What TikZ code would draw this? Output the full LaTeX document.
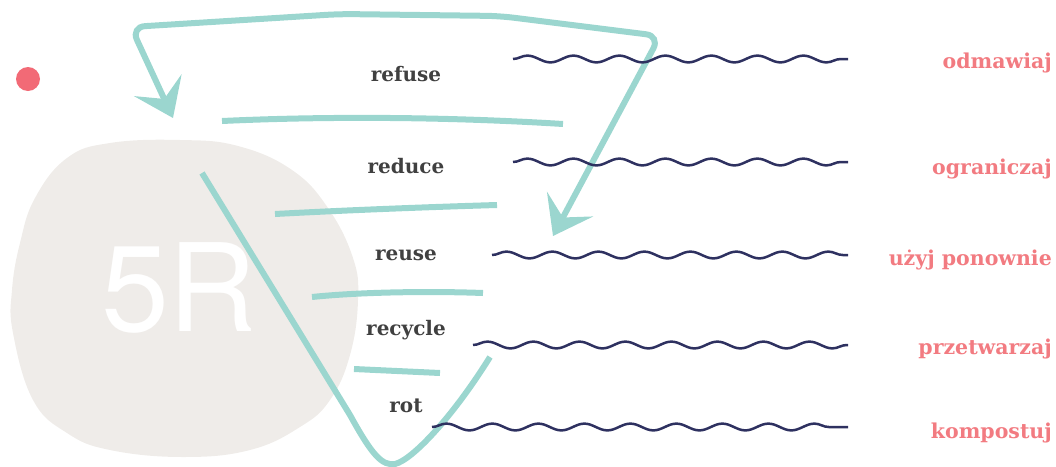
\documentclass[tikz,border=0pt]{standalone}
\usepackage{fontspec}
\usetikzlibrary{arrows.meta,decorations.pathmorphing}
\newfontfamily\slabfont{DejaVu Serif}
\newfontfamily\bigsans{TeX Gyre Heros}
\definecolor{teal1}{HTML}{9BD6CF}
\definecolor{blobc}{HTML}{EFECE9}
\definecolor{navy}{HTML}{2E3160}
\definecolor{darkt}{HTML}{404040}
\definecolor{pinkt}{HTML}{F27B81}
\definecolor{dotc}{HTML}{F26A76}
\tikzset{
  tl/.style={draw=teal1, line width=6pt},
  wave/.style={draw=navy, line width=2.5pt, decorate,
    decoration={snake, segment length=46pt, amplitude=3.4pt}},
  enl/.style={font=\slabfont\bfseries\fontsize{20}{20}\selectfont, text=darkt, anchor=base, inner sep=0pt},
  pll/.style={font=\slabfont\bfseries\fontsize{20.5}{20.5}\selectfont, text=pinkt, anchor=base east, inner sep=0pt},
  bigtip/.tip={Stealth[length=36pt,width=52pt,inset=15pt]}
}
\begin{document}
\begin{tikzpicture}[x=1pt,y=-1pt]
\useasboundingbox (0,0) rectangle (1056,466);
% blob
\fill[blobc] plot[smooth cycle, tension=0.7] coordinates {
  (110,143) (180,140) (238,146) (292,170) (328,208) (353,258) (358,300)
  (350,355) (330,400) (300,427) (250,450) (183,457) (110,450) (67,433)
  (33,400) (13,333) (12,290) (20,243) (35,198) (67,158)};
\node[font=\bigsans\fontsize{122}{122}\selectfont, text=white, inner sep=0pt] (fiveR) at (179,288) {5R};
% red dot
\fill[dotc] (28,79) circle (12);
% top double arrow
\coordinate (ta) at (173,118);
\coordinate (tb) at (553,236);
\draw[tl, bigtip-bigtip, rounded corners=14pt]
  (ta) -- (131,27) -- (340,14) -- (500,16) -- (660,36) -- (tb);
% funnel
\coordinate (fa) at (202,173);
\coordinate (fb) at (490,357);
\draw[tl] (fa) -- (350,415) .. controls (372,455) and (382,466) .. (395,464)
  .. controls (412,460) and (452,418) .. (fb);
% inner lines
\coordinate (h1a) at (222,121); \coordinate (h1b) at (563,124);
\coordinate (h2a) at (275,214); \coordinate (h2b) at (497,205);
\coordinate (h3a) at (312,297); \coordinate (h3b) at (483,293);
\coordinate (h4a) at (354,369); \coordinate (h4b) at (440,373);
\draw[tl] (h1a) .. controls (330,116) and (450,117) .. (h1b);
\draw[tl] (h2a) .. controls (350,210) and (430,207) .. (h2b);
\draw[tl] (h3a) .. controls (360,292) and (430,291) .. (h3b);
\draw[tl] (h4a) -- (h4b);
% waves
\coordinate (w1a) at (513,59); \coordinate (w1b) at (848,59);
\coordinate (w2a) at (513,162); \coordinate (w2b) at (848,162);
\coordinate (w3a) at (492,255); \coordinate (w3b) at (848,255);
\coordinate (w4a) at (473,345); \coordinate (w4b) at (848,345);
\coordinate (w5a) at (432,427); \coordinate (w5b) at (848,427);
\draw[wave] (w1a) -- (w1b);
\draw[wave] (w2a) -- (w2b);
\draw[wave] (w3a) -- (w3b);
\draw[wave] (w4a) -- (w4b);
\draw[wave] (w5a) -- (w5b);
% english labels
\node[enl] (refuse) at (406,81) {refuse};
\node[enl] (reduce) at (406,173) {reduce};
\node[enl] (reuse) at (406,260) {reuse};
\node[enl] (recycle) at (406,335) {recycle};
\node[enl] (rot) at (406,412) {rot};
% polish labels
\node[pll] (odm) at (1052,68) {odmawiaj};
\node[pll] (ogr) at (1052,174) {ograniczaj};
\node[pll] (uzyj) at (1052,265) {użyj ponownie};
\node[pll] (prz) at (1052,354) {przetwarzaj};
\node[pll] (kom) at (1052,438) {kompostuj};
\end{tikzpicture}
\end{document}
